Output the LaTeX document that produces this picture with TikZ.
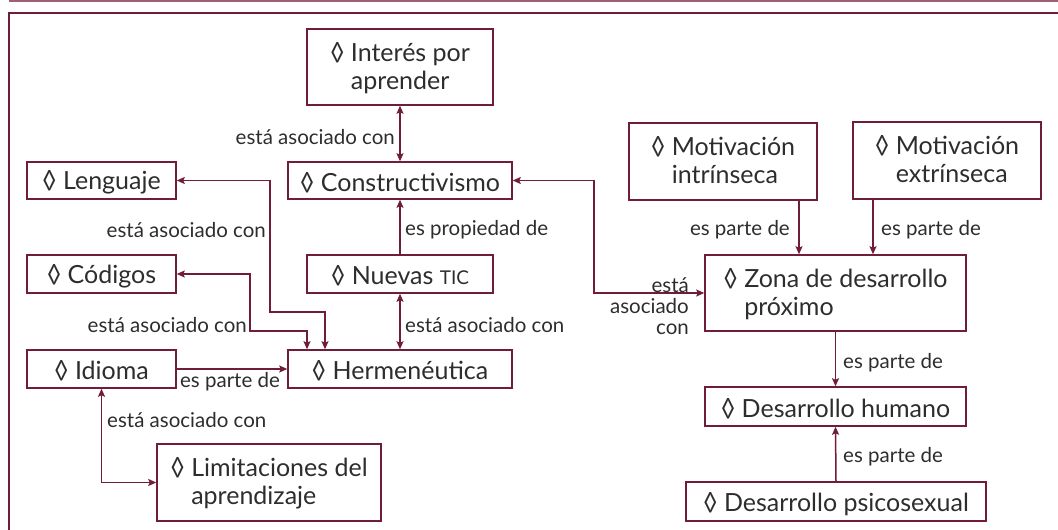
\documentclass[tikz,border=0pt]{standalone}
\usepackage{fontspec}
\setmainfont{Lato}
\usetikzlibrary{arrows.meta}
\definecolor{mar}{RGB}{112,28,58}
\definecolor{txt}{RGB}{45,45,45}
\newcommand\lz{◊}
\newcommand\one[1]{\rule{0pt}{23.4pt}\lz\ #1}
\newcommand\two[2]{\lz\ \begin{tabular}[t]{@{}l@{}}\rule{0pt}{24.4pt}#1\\#2\end{tabular}}
\newcommand\boxfont{\fontsize{25}{28}\selectfont}
\newcommand\lblfont{\fontsize{20.5}{21}\selectfont}
\tikzset{
  box/.style={draw=mar, line width=1.5pt, inner sep=0pt, text=txt, font=\boxfont, align=center},
  lbl/.style={text=txt, font=\lblfont, inner sep=0pt},
  con/.style={draw=mar, line width=1.5pt},
  >={Stealth[length=8pt,width=7pt,inset=1.5pt]}
}
\begin{document}
\begin{tikzpicture}[x=1pt,y=-1pt]
\useasboundingbox (0,0) rectangle (1058,530);
% frame
\draw[mar!70, line width=2pt] (9,0.5) -- (1060,0.5);
\draw[mar, line width=1.8pt] (9,540) -- (9,13) -- (1070,13);
% boxes
\node[box, minimum width=186pt, minimum height=76pt] (int) at (400,67) {\two{Interés por}{aprender}};
\node[box, minimum width=149pt, minimum height=37pt] (leng) at (101.5,180.5) {\one{Lenguaje}};
\node[box, minimum width=224pt, minimum height=37pt] (cons) at (400,180.5) {\one{Constructivismo}};
\node[box, minimum width=188pt, minimum height=77pt] (mi) at (723,161.5) {\two{Motivación}{intrínseca}};
\node[box, minimum width=188pt, minimum height=77pt] (me) at (947,160.5) {\two{Motivación}{extrínseca}};
\node[box, minimum width=149pt, minimum height=38pt] (cod) at (101.5,274) {\one{Códigos}};
\node[box, minimum width=186pt, minimum height=38pt] (tic) at (400,274) {\one{Nuevas {\fontsize{19}{20}\selectfont TIC}}};
\node[box, minimum width=261pt, minimum height=76pt] (zona) at (835.5,293) {\two{Zona de desarrollo}{próximo}};
\node[box, minimum width=149pt, minimum height=38pt] (idi) at (101.5,369) {\one{Idioma}};
\node[box, minimum width=224pt, minimum height=38pt] (herm) at (400,369) {\one{Hermenéutica}};
\node[box, minimum width=261pt, minimum height=39pt] (dh) at (835.5,406.5) {\one{Desarrollo humano}};
\node[box, minimum width=224pt, minimum height=77pt] (lim) at (269,482.5) {\two{Limitaciones del}{aprendizaje}};
\node[box, minimum width=300pt, minimum height=39pt] (psi) at (836,501.5) {\one{Desarrollo psicosexual}};
% route points
\coordinate (k1) at (270,312);
\coordinate (k2) at (325,312);
\coordinate (k3) at (250,331);
\coordinate (k4) at (307,331);
\coordinate (k5) at (594,293);
\coordinate (k6) at (799,0);
\coordinate (k7) at (873,0);
% connectors
\draw[con,<->] (int.south) -- (cons.north);
\draw[con,->] (tic.north) -- (cons.south);
\draw[con,<->] (tic.south) -- (herm.north);
\draw[con,<->] (leng.east) -| (k1) -- (k2) -- (k2 |- herm.north);
\draw[con,<->] (cod.east) -| (k3) -- (k4) -- (k4 |- herm.north);
\draw[con,->] (idi.east) -- (herm.west);
\draw[con,<->] (idi.south) |- (lim.west);
\draw[con,<->] (cons.east) -| (k5) -- (zona.west);
\draw[con,->] (k6 |- mi.south) -- (k6 |- zona.north);
\draw[con,->] (k7 |- me.south) -- (k7 |- zona.north);
\draw[con,->] (zona.south) -- (dh.north);
\draw[con,->] (psi.north) -- (dh.south);
% labels
\node[lbl, anchor=east] (l1) at (395,137) {está asociado con};
\node[lbl, anchor=west] (l2) at (405,230) {es propiedad de};
\node[lbl, anchor=west] (l3) at (405,325) {está asociado con};
\node[lbl, anchor=east] (l4) at (266,230) {está asociado con};
\node[lbl, anchor=east] (l5) at (247,325) {está asociado con};
\node[lbl] (l6) at (230,382) {es parte de};
\node[lbl, anchor=west] (l7) at (107,420) {está asociado con};
\node[lbl, anchor=east, align=right] (l8) at (689,306) {está\\asociado\\con};
\node[lbl, anchor=east] (l9) at (790,230) {es parte de};
\node[lbl, anchor=west] (l10) at (881,230) {es parte de};
\node[lbl, anchor=west] (l11) at (843,363) {es parte de};
\node[lbl, anchor=west] (l12) at (843,457) {es parte de};
\end{tikzpicture}
\end{document}
